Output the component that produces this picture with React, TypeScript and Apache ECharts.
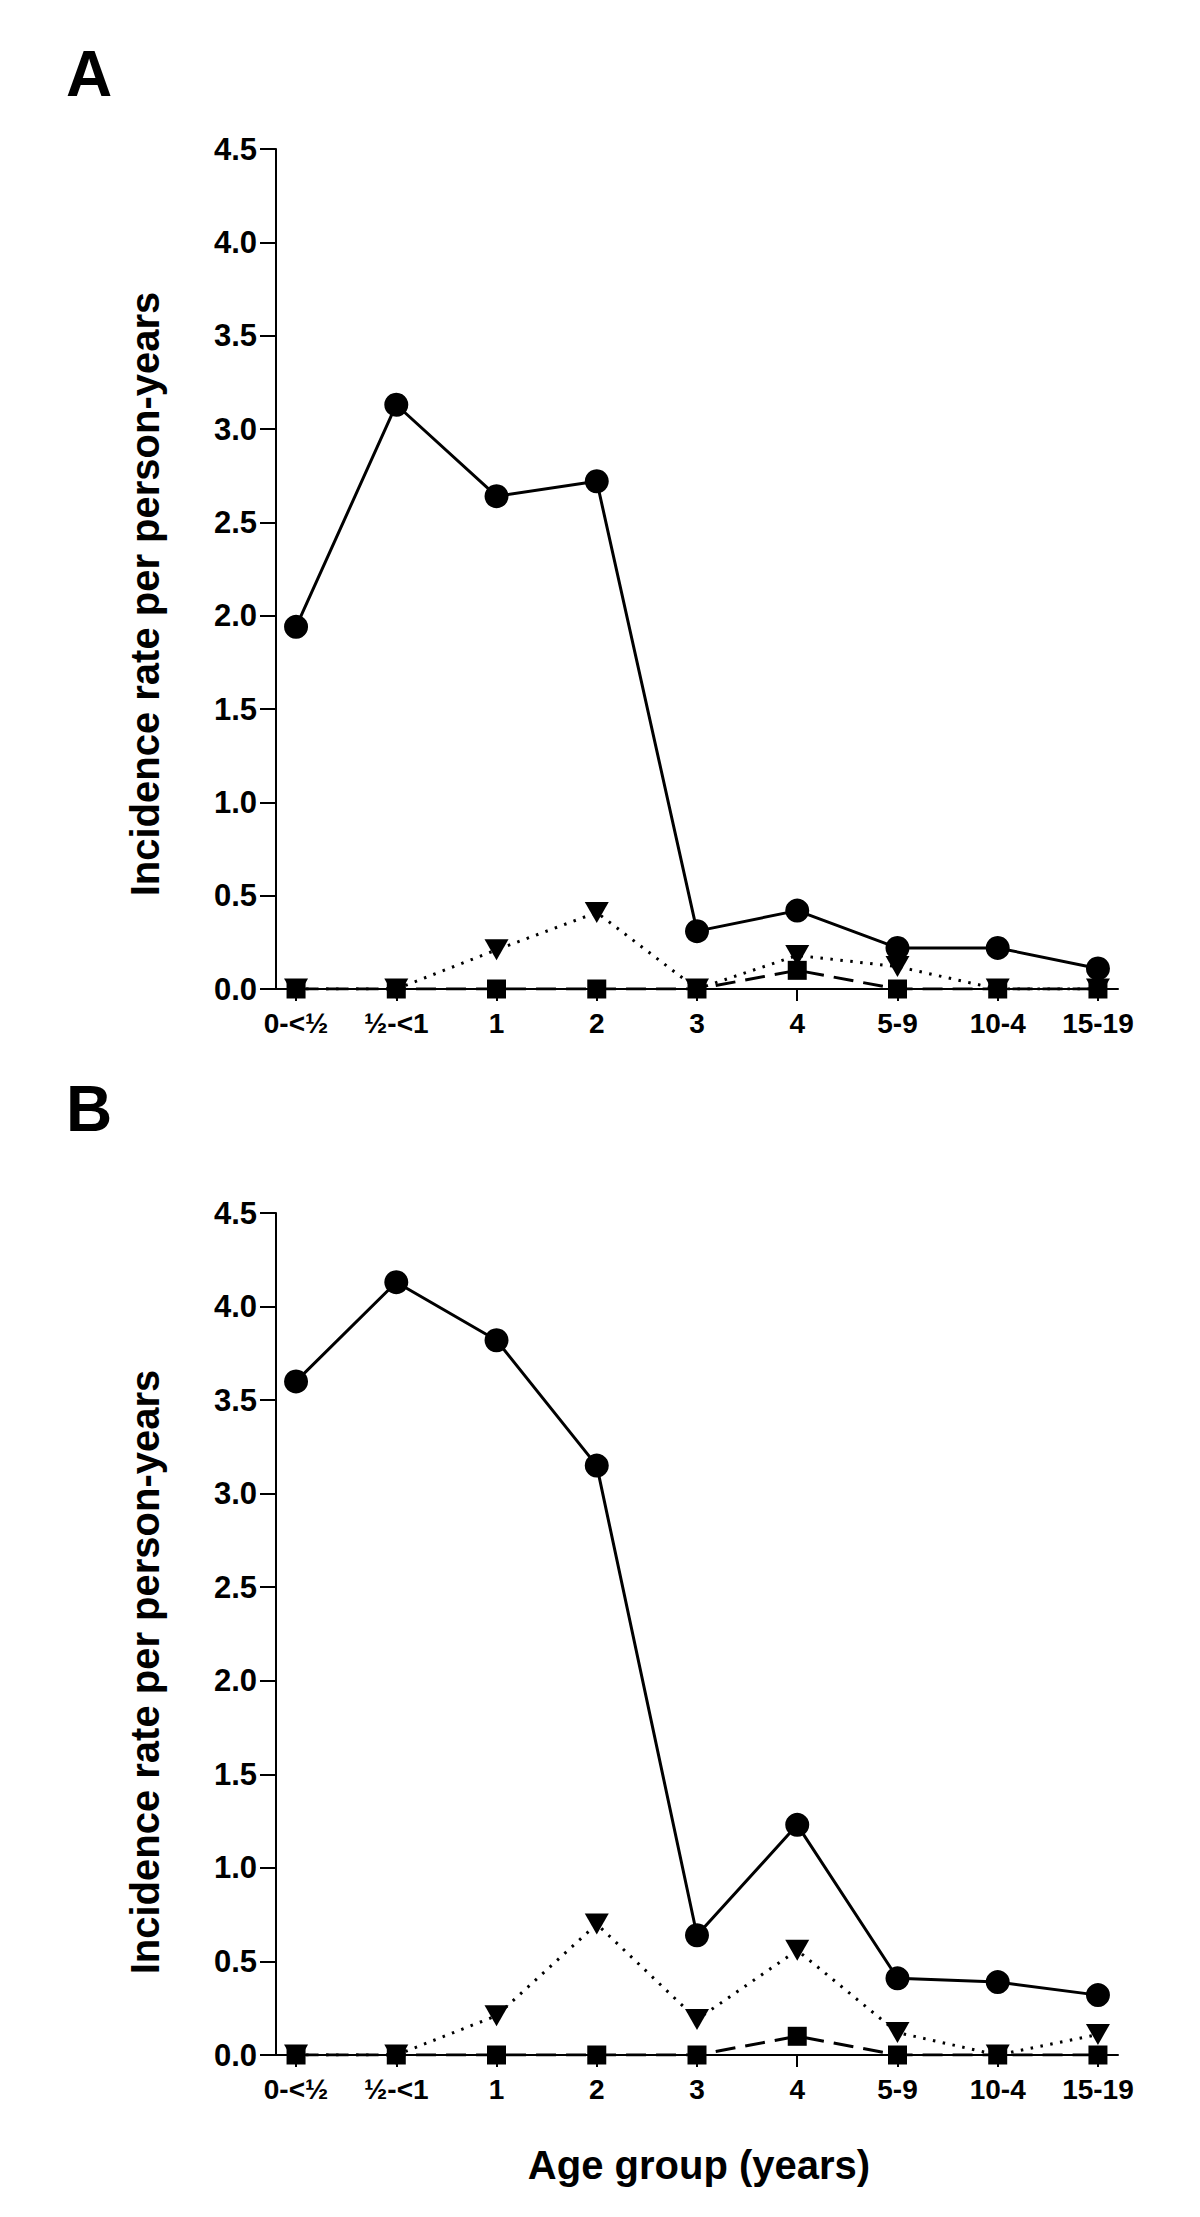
import React, { useEffect, useRef } from "react";
import * as echarts from "echarts";

const categories = ["0-<½", "½-<1", "1", "2", "3", "4", "5-9", "10-4", "15-19"];

const aCircle = [1.94, 3.13, 2.64, 2.72, 0.31, 0.42, 0.22, 0.22, 0.11];
const aTriangle = [0, 0, 0.21, 0.41, 0, 0.18, 0.12, 0, 0];
const aSquare = [0, 0, 0, 0, 0, 0.1, 0, 0, 0];

const bCircle = [3.6, 4.13, 3.82, 3.15, 0.64, 1.23, 0.41, 0.39, 0.32];
const bTriangle = [0, 0, 0.21, 0.7, 0.19, 0.56, 0.12, 0, 0.11];
const bSquare = [0, 0, 0, 0, 0, 0.1, 0, 0, 0];

const FONT = '"Liberation Sans", Arial, Helvetica, sans-serif';
const yTitle = "Incidence rate per person-years";
const xTitle = "Age group (years)";

const pairs = (vals: number[]) => vals.map((v, i) => [i, v]);
const catIdx = categories.map((_, i) => i);

function makeX(gridIndex: number) {
  return {
    type: "value",
    gridIndex,
    min: -0.2,
    max: 8.2,
    axisLine: { show: true, onZero: false, lineStyle: { color: "#000", width: 2 } },
    axisTick: { show: true, customValues: catIdx, length: 12, lineStyle: { color: "#000", width: 2 } },
    axisLabel: {
      show: true,
      customValues: catIdx,
      formatter: (v: number) => categories[Math.round(v)] ?? "",
      color: "#000",
      fontFamily: FONT,
      fontWeight: "bold",
      fontSize: 28,
      margin: 20,
    },
    splitLine: { show: false },
  };
}

function makeY(gridIndex: number) {
  return {
    type: "value",
    gridIndex,
    min: 0,
    max: 4.5,
    interval: 0.5,
    axisLine: { show: true, onZero: false, lineStyle: { color: "#000", width: 2 } },
    axisTick: { show: true, length: 16, lineStyle: { color: "#000", width: 2 } },
    axisLabel: {
      show: true,
      formatter: (v: number) => v.toFixed(1),
      color: "#000",
      fontFamily: FONT,
      fontWeight: "bold",
      fontSize: 31,
      margin: 19,
    },
    splitLine: { show: false },
  };
}

function makeSeries(idx: number, circle: number[], tri: number[], sq: number[]) {
  return [
    {
      type: "line",
      xAxisIndex: idx,
      yAxisIndex: idx,
      data: pairs(tri),
      symbol: "triangle",
      symbolRotate: 180,
      symbolSize: [24, 21],
      lineStyle: { color: "#000", width: 3, type: [2.5, 7.5] },
      itemStyle: { color: "#000" },
      z: 2,
    },
    {
      type: "line",
      xAxisIndex: idx,
      yAxisIndex: idx,
      data: pairs(sq),
      symbol: "rect",
      symbolSize: 19,
      lineStyle: { color: "#000", width: 3, type: [20, 10] },
      itemStyle: { color: "#000" },
      z: 3,
    },
    {
      type: "line",
      xAxisIndex: idx,
      yAxisIndex: idx,
      data: pairs(circle),
      symbol: "circle",
      symbolSize: 24,
      lineStyle: { color: "#000", width: 3, type: "solid" },
      itemStyle: { color: "#000" },
      z: 4,
    },
  ];
}

export default function App() {
  const ref = useRef<HTMLDivElement>(null);
  useEffect(() => {
    document.body.style.margin = "0";
    if (!ref.current) return;
    const chart = echarts.init(ref.current, null, { renderer: "svg" });
    chart.setOption({
      animation: false,
      backgroundColor: "#fff",
      grid: [
        { left: 276, top: 149, width: 842, height: 840 },
        { left: 276, top: 1213, width: 842, height: 842 },
      ],
      xAxis: [makeX(0), makeX(1)],
      yAxis: [makeY(0), makeY(1)],
      series: [
        ...makeSeries(0, aCircle, aTriangle, aSquare),
        ...makeSeries(1, bCircle, bTriangle, bSquare),
      ],
      graphic: [
        {
          type: "text",
          x: 66,
          y: 74,
          style: { text: "A", font: `bold 64px ${FONT}`, fill: "#000", align: "left", verticalAlign: "middle" },
        },
        {
          type: "text",
          x: 66,
          y: 1109,
          style: { text: "B", font: `bold 64px ${FONT}`, fill: "#000", align: "left", verticalAlign: "middle" },
        },
        {
          type: "text",
          x: 145,
          y: 594,
          rotation: Math.PI / 2,
          style: { text: yTitle, font: `bold 40px ${FONT}`, fill: "#000", align: "center", verticalAlign: "middle" },
        },
        {
          type: "text",
          x: 145,
          y: 1672,
          rotation: Math.PI / 2,
          style: { text: yTitle, font: `bold 40px ${FONT}`, fill: "#000", align: "center", verticalAlign: "middle" },
        },
        {
          type: "text",
          x: 699,
          y: 2165,
          style: { text: xTitle, font: `bold 40px ${FONT}`, fill: "#000", align: "center", verticalAlign: "middle" },
        },
      ],
    });
    return () => chart.dispose();
  }, []);
  return <div ref={ref} style={{ width: 1200, height: 2217 }} />;
}
